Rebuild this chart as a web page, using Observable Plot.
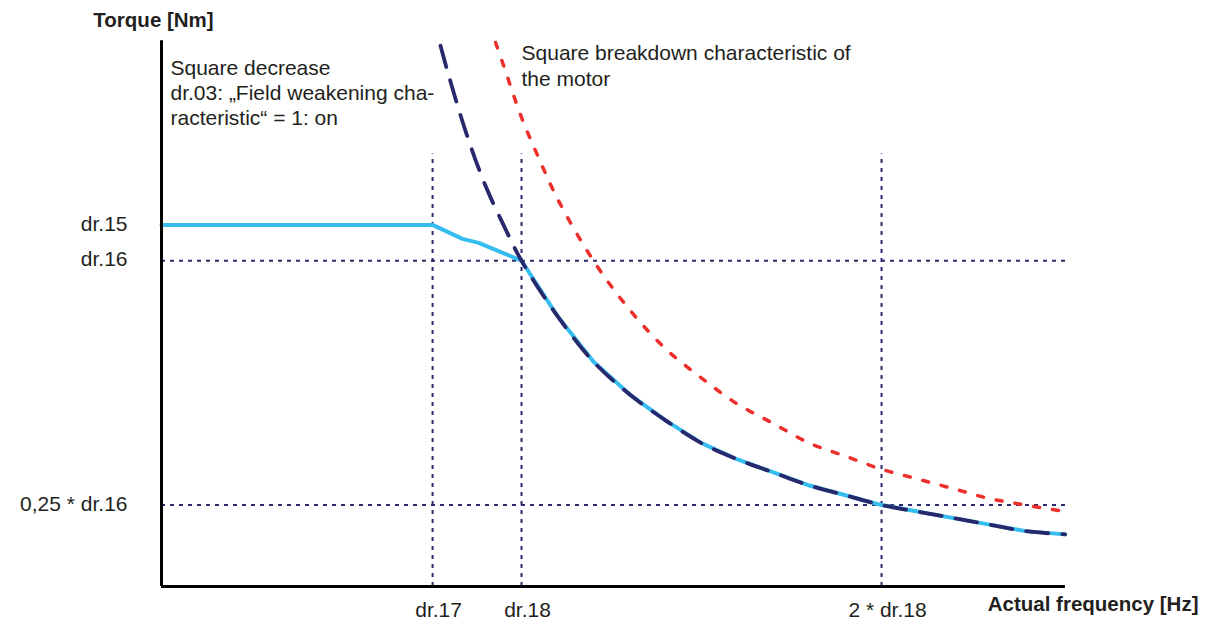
<!DOCTYPE html>
<html>
<head>
<meta charset="utf-8">
<script src="https://cdn.jsdelivr.net/npm/d3@7"></script>
<script src="https://cdn.jsdelivr.net/npm/@observablehq/plot@0.6"></script>
<style>
  html, body { margin: 0; padding: 0; background: #ffffff; }
  #chart svg { display: block; font-family: "Liberation Sans", Arial, sans-serif; }
</style>
</head>
<body>
<div id="chart"></div>
<script>
// frequency in units of dr.18, torque in units of dr.16
const navyF = [0.775, 0.8, 0.85, 0.9, 0.95, 1.0, 1.1, 1.2, 1.3, 1.4, 1.5, 1.6, 1.7, 1.8, 1.9, 2.0, 2.1, 2.2, 2.3, 2.4, 2.51];
const navyT = [1.66, 1.56, 1.38, 1.23, 1.11, 1.00, 0.83, 0.69, 0.59, 0.51, 0.44, 0.39, 0.35, 0.31, 0.28, 0.25, 0.23, 0.21, 0.19, 0.17, 0.16];
const redF = [0.928, 0.95, 1.0, 1.05, 1.1, 1.2, 1.3, 1.4, 1.5, 1.6, 1.7, 1.8, 1.9, 2.0, 2.1, 2.2, 2.3, 2.4, 2.51];
const redT = [1.67, 1.60, 1.44, 1.31, 1.19, 1.00, 0.85, 0.73, 0.64, 0.56, 0.50, 0.44, 0.40, 0.36, 0.33, 0.30, 0.27, 0.25, 0.23];
const blueF = [0, 0.753, 0.836, 0.881, 1.0, 1.1, 1.2, 1.3, 1.4, 1.5, 1.6, 1.7, 1.8, 1.9, 2.0, 2.1, 2.2, 2.3, 2.4, 2.51];
const blueT = [1.11, 1.11, 1.067, 1.055, 1.00, 0.83, 0.69, 0.59, 0.51, 0.44, 0.39, 0.35, 0.31, 0.28, 0.25, 0.23, 0.21, 0.19, 0.17, 0.16];

const yTickValues = [1.11, 1.0, 0.25];
const yTickLabels = ["dr.15", "dr.16", "0,25 * dr.16"];
const xTickValues = [0.753, 1.0, 2.0];
const xTickLabels = ["dr.17", "dr.18", "2 * dr.18"];
const hGridValues = [1.0, 0.25];
const vGridTop = 1.328;
const xMax = 2.511;
const yMax = 1.67;

const yAxisTitle = "Torque [Nm]";
const xAxisTitle = "Actual frequency [Hz]";
const noteLeft = "Square decrease\ndr.03: \u201EField weakening cha-\nracteristic\u201C = 1: on";
const noteRight = "Square breakdown characteristic of\nthe motor";

const toPts = (xs, ys) => xs.map((x, i) => ({x, y: ys[i]}));
const navy = toPts(navyF, navyT);
const red = toPts(redF, redT);
const blue = toPts(blueF, blueT);
const yTicks = yTickValues.map((v, i) => ({v, label: yTickLabels[i]}));
const xTicks = xTickValues.map((v, i) => ({v, label: xTickLabels[i]}));

const gridColor = "#2b2a6e";
const textColor = "#231f20";

const chart = Plot.plot({
  width: 1208,
  height: 622,
  marginLeft: 161,
  marginRight: 143,
  marginTop: 42,
  marginBottom: 36,
  x: {domain: [0, xMax], axis: null},
  y: {domain: [0, yMax], axis: null},
  style: {fontFamily: "'Liberation Sans', Arial, sans-serif", background: "#ffffff"},
  marks: [
    // dotted guide lines
    Plot.ruleX(xTickValues, {y1: 0, y2: vGridTop, stroke: gridColor, strokeWidth: 2, strokeDasharray: "4,5"}),
    Plot.ruleY(hGridValues, {x1: 0, x2: xMax, stroke: gridColor, strokeWidth: 2, strokeDasharray: "4,5"}),
    // curves
    Plot.line(blue, {x: "x", y: "y", stroke: "#35bdf0", strokeWidth: 4}),
    Plot.line(navy, {x: "x", y: "y", stroke: "#28286c", strokeWidth: 3.8, strokeDasharray: "22,14", curve: "catmull-rom"}),
    Plot.line(red, {x: "x", y: "y", stroke: "#ec2f2b", strokeWidth: 3.5, strokeDasharray: "6,13", curve: "catmull-rom"}),
    // axes
    Plot.ruleX([0], {y1: 0, y2: 1.675, stroke: "#000", strokeWidth: 3}),
    Plot.ruleY([0], {x1: 0, x2: xMax, stroke: "#000", strokeWidth: 3}),
    // tick labels
    Plot.text(yTicks, {x: 0, y: "v", text: "label", textAnchor: "end", dx: -34, dy: -1, fontSize: 21, fill: textColor}),
    Plot.text(xTicks, {x: "v", y: 0, text: "label", textAnchor: "middle", dx: 6, dy: 24, fontSize: 21, fill: textColor}),
    // axis titles
    Plot.text([yAxisTitle], {x: 0, y: yMax, dx: -8, dy: -22, textAnchor: "middle", fontSize: 20.5, fontWeight: "bold", fill: textColor}),
    Plot.text([xAxisTitle], {x: xMax, y: 0, dx: 133, dy: 18, textAnchor: "end", fontSize: 20.5, fontWeight: "bold", fill: textColor}),
    // annotations
    Plot.text([noteLeft], {x: 0, y: 1.625, dx: 9, textAnchor: "start", lineAnchor: "top", lineHeight: 1.2, fontSize: 21, fill: textColor}),
    Plot.text([noteRight], {x: 1.0, y: 1.671, dx: 0, textAnchor: "start", lineAnchor: "top", lineHeight: 1.22, fontSize: 21, fill: textColor})
  ]
});
document.getElementById("chart").appendChild(chart);
</script>
</body>
</html>
